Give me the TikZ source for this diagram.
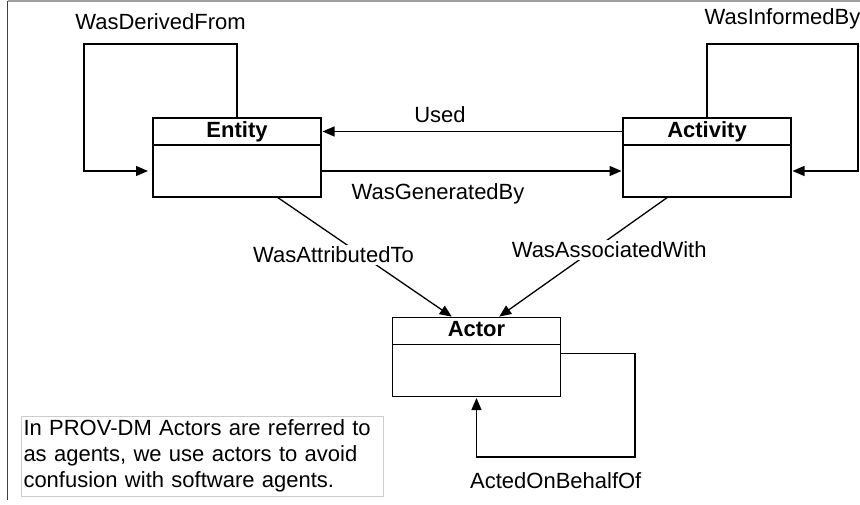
\documentclass[tikz,border=0pt]{standalone}
\usepackage{fontspec}
\setmainfont{Liberation Sans}
\usepackage{tikz}
\usetikzlibrary{arrows.meta,positioning,calc}

\tikzset{
  lab/.style = {font=\fontsize{22}{26}\selectfont, fill=white, inner sep=2pt},
  head/.style = {draw, line width=1.5pt, outer sep=0pt, minimum width=168pt, minimum height=27pt,
                 inner sep=0pt, text height=16pt, text depth=4.6pt, font=\fontsize{22}{26}\selectfont\bfseries},
  body/.style = {draw, line width=1.5pt, outer sep=0pt, minimum width=168pt, minimum height=52pt},
  rel/.style = {->, line width=1.3pt, shorten >=1.5pt},
  note/.style = {draw=gray!40, line width=1pt, text width=358pt, align=left, inner xsep=2pt,
                 inner ysep=3.5pt, font=\fontsize{22}{26}\selectfont}
}

\begin{document}
\begin{tikzpicture}[x=1pt, y=-1pt, >={Triangle[length=12pt,width=10pt]}]
    \useasboundingbox (0,0) rectangle (860,505);

    % frame
    \draw[gray!75, line width=1.2pt] (8,1) -- (860,1);
    \draw[black!75, line width=1.5pt] (7.5,1) -- (7.5,500);

    % Classes
    \node[head] (entityhead) at (237,131.5) {Entity};
    \node[body] (entitybody) [below=0pt of entityhead] {};
    \node[head] (activityhead) [right=302pt of entityhead] {Activity};
    \node[body] (activitybody) [below=0pt of activityhead] {};
    \node[head] (actorhead) at (476.5,331) {Actor};
    \node[body] (actorbody) [below=0pt of actorhead] {};

    % corners of the loops
    \coordinate (derivedtop) at (84,44);
    \coordinate (informedtop) at (858,44);
    \coordinate (behalfcorner) at (635,457);

    % Relations
    \draw[rel] (activityhead.west) -- node[lab, above=6pt, xshift=-32pt] {Used} (entityhead.east);
    \draw[rel] (entitybody.east) -- node[lab, below=10pt, xshift=-34pt] {WasGeneratedBy} (activitybody.west);
    \draw[rel, shorten >=5pt] (entityhead.north) |- node[lab, above=12pt, pos=0.75] {WasDerivedFrom} (derivedtop) |- (entitybody.west);
    \draw[rel] (activityhead.north) |- node[lab, above=12pt, pos=0.75] {WasInformedBy} (informedtop) |- (activitybody.east);
    \draw[rel] ([xshift=40pt]entitybody.south) -- node[lab, pos=0.48, xshift=-28pt] {WasAttributedTo} ([xshift=-23.5pt]actorhead.north);
    \draw[rel] ([xshift=-39pt]activitybody.south) -- node[lab, pos=0.44, xshift=16pt] {WasAssociatedWith} ([xshift=21.5pt]actorhead.north);
    \draw[rel] ([yshift=17pt]actorbody.east) -| (behalfcorner) -| node[lab, below=13pt, pos=0.25] {ActedOnBehalfOf} (actorbody.south);

    % note
    \node[note, anchor=north west] (remark) at (21,416) {In PROV-DM Actors are referred to\\as agents, we use actors to avoid\\confusion with software agents.};
\end{tikzpicture}
\end{document}
